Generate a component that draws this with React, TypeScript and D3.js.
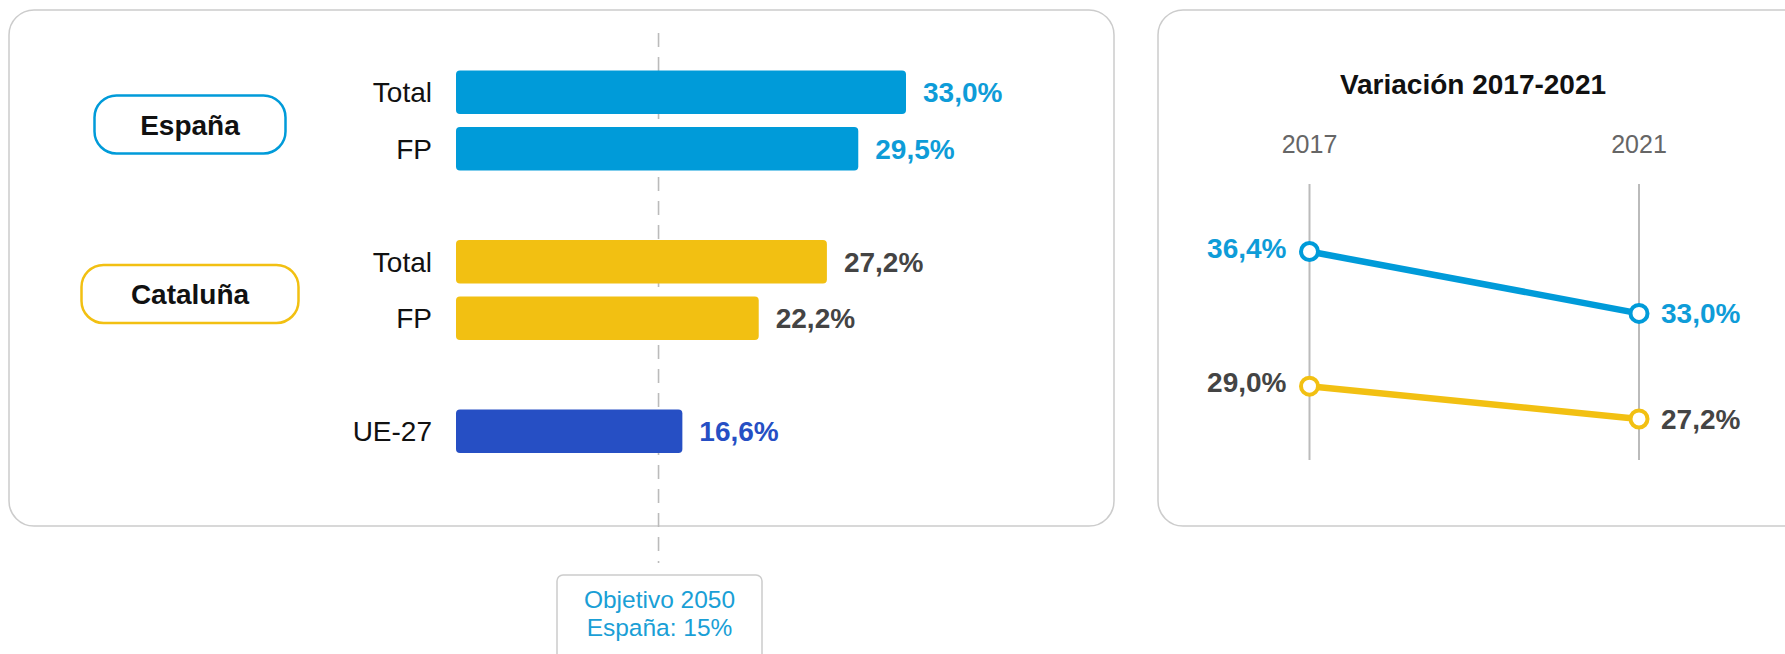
import React from 'react';
import * as d3 from 'd3';

// ---- data ----
const slots = ['es-total', 'es-fp', 'gap1', 'cat-total', 'cat-fp', 'gap2', 'ue'];
const barKeys = ['es-total', 'es-fp', 'cat-total', 'cat-fp', 'ue'];
const barLabels = ['Total', 'FP', 'Total', 'FP', 'UE-27'];
const barGroups = ['España', 'España', 'Cataluña', 'Cataluña', 'UE'];
const barValues = [33.0, 29.5, 27.2, 22.2, 16.6];
const groupNames = ['España', 'Cataluña'];
const groupKeys = [['es-total', 'es-fp'], ['cat-total', 'cat-fp']];
const targetValue = 15;
const targetLines = ['Objetivo 2050', 'España: 15%'];

const years = ['2017', '2021'];
const lineSeriesNames = ['España', 'Cataluña'];
const espanaValues = [36.4, 33.0];
const cataluniaValues = [29.0, 27.2];
const lineTitle = 'Variación 2017-2021';

// ---- styles ----
const FONT = "'Liberation Sans', Arial, sans-serif";
const BLUE = '#009bd9';
const BLUE_TXT = '#0e9cd8';
const YELLOW = '#f2c012';
const DARK = '#444444';
const UE_BLUE = '#264fc4';
const groupColor: Record<string, string> = { 'España': BLUE, 'Cataluña': YELLOW, 'UE': UE_BLUE };
const labelColor: Record<string, string> = { 'España': BLUE_TXT, 'Cataluña': DARK, 'UE': UE_BLUE };

const locale = d3.formatLocale({ decimal: ',', thousands: '.', grouping: [3], currency: ['', '€'] });
const fmt = (v: number) => locale.format('.1f')(v) + '%';

export default function App() {
  // bar chart scales
  const x = d3.scaleLinear().domain([0, 33]).range([456, 906]);
  const yCenter = d3.scalePoint<string>().domain(slots).range([92.2, 431.2]);
  const barH = 43.5;
  const x0 = x(0);

  // line chart scales
  const lx = d3.scalePoint<string>().domain(years).range([1309.5, 1639]);
  const ly = d3.scaleLinear().domain([25, 40]).range([459, 186]);
  const lineGen = d3.line<number>().x((_, i) => lx(years[i]) as number).y((d) => ly(d));
  const lineData = [espanaValues, cataluniaValues];
  const lineColors = [BLUE, YELLOW];
  const lineLabelColors = [BLUE_TXT, DARK];

  const pillWidths = [191, 217];

  return (
    <svg width={1785} height={654} style={{ position: 'absolute', left: 0, top: 0, fontFamily: FONT }}>
      <rect x={0} y={0} width={1785} height={654} fill="#ffffff" />
      {/* panels */}
      <rect x={9} y={10} width={1105} height={516} rx={25} ry={25} fill="#fff" stroke="#cccccc" strokeWidth={1.5} />
      <rect x={1158} y={10} width={700} height={516} rx={25} ry={25} fill="#fff" stroke="#cccccc" strokeWidth={1.5} />

      {/* target dashed line */}
      <line x1={x(targetValue) - 2} x2={x(targetValue) - 2} y1={33} y2={563} stroke="#bbbbbb" strokeWidth={1.6} strokeDasharray="14,10" />

      {/* bars */}
      {barKeys.map((k, i) => {
        const cy = yCenter(k) as number;
        const g = barGroups[i];
        return (
          <g key={k}>
            <rect x={x0} y={cy - barH / 2} width={x(barValues[i]) - x0} height={barH} rx={4} ry={4} fill={groupColor[g]} />
            <text x={432} y={cy} dy="0.36em" textAnchor="end" fontSize={28} fill="#111">{barLabels[i]}</text>
            <text x={x(barValues[i]) + 17} y={cy} dy="0.36em" textAnchor="start" fontSize={28} fontWeight="bold" fill={labelColor[g]}>{fmt(barValues[i])}</text>
          </g>
        );
      })}

      {/* group pills */}
      {groupNames.map((name, i) => {
        const ys = groupKeys[i].map((k) => yCenter(k) as number);
        const cy = d3.mean(ys)! + 4;
        const w = pillWidths[i];
        const cx = 190;
        return (
          <g key={name}>
            <rect x={cx - w / 2} y={cy - 29} width={w} height={58} rx={22} ry={22} fill="#fff" stroke={groupColor[name]} strokeWidth={2.5} />
            <text x={cx} y={cy} dy="0.36em" textAnchor="middle" fontSize={28} fontWeight="bold" fill="#111">{name}</text>
          </g>
        );
      })}

      {/* target box */}
      <rect x={557} y={575} width={205} height={120} rx={6} ry={6} fill="#fff" stroke="#cccccc" strokeWidth={1.5} />
      {targetLines.map((t, i) => (
        <text key={t} x={659.5} y={608 + i * 28} textAnchor="middle" fontSize={24.5} fill="#1a9fd6">{t}</text>
      ))}

      {/* line chart */}
      <text x={1473} y={94} textAnchor="middle" fontSize={28} fontWeight="bold" fill="#111">{lineTitle}</text>
      {years.map((yr) => (
        <g key={yr}>
          <text x={lx(yr)} y={153} textAnchor="middle" fontSize={25} fill="#666">{yr}</text>
          <line x1={lx(yr)} x2={lx(yr)} y1={ly(40) - 2} y2={ly(25) + 1} stroke="#bbbbbb" strokeWidth={2} />
        </g>
      ))}
      {lineData.map((vals, si) => (
        <g key={lineSeriesNames[si]}>
          <path d={lineGen(vals) || ''} fill="none" stroke={lineColors[si]} strokeWidth={6.5} />
          {vals.map((v, i) => (
            <circle key={i} cx={lx(years[i])} cy={ly(v)} r={8.5} fill="#fff" stroke={lineColors[si]} strokeWidth={4} />
          ))}
          <text x={(lx(years[0]) as number) - 23} y={ly(vals[0]) - 4} dy="0.36em" textAnchor="end" fontSize={28} fontWeight="bold" fill={lineLabelColors[si]}>{fmt(vals[0])}</text>
          <text x={(lx(years[1]) as number) + 22} y={ly(vals[1])} dy="0.36em" textAnchor="start" fontSize={28} fontWeight="bold" fill={lineLabelColors[si]}>{fmt(vals[1])}</text>
        </g>
      ))}
    </svg>
  );
}
